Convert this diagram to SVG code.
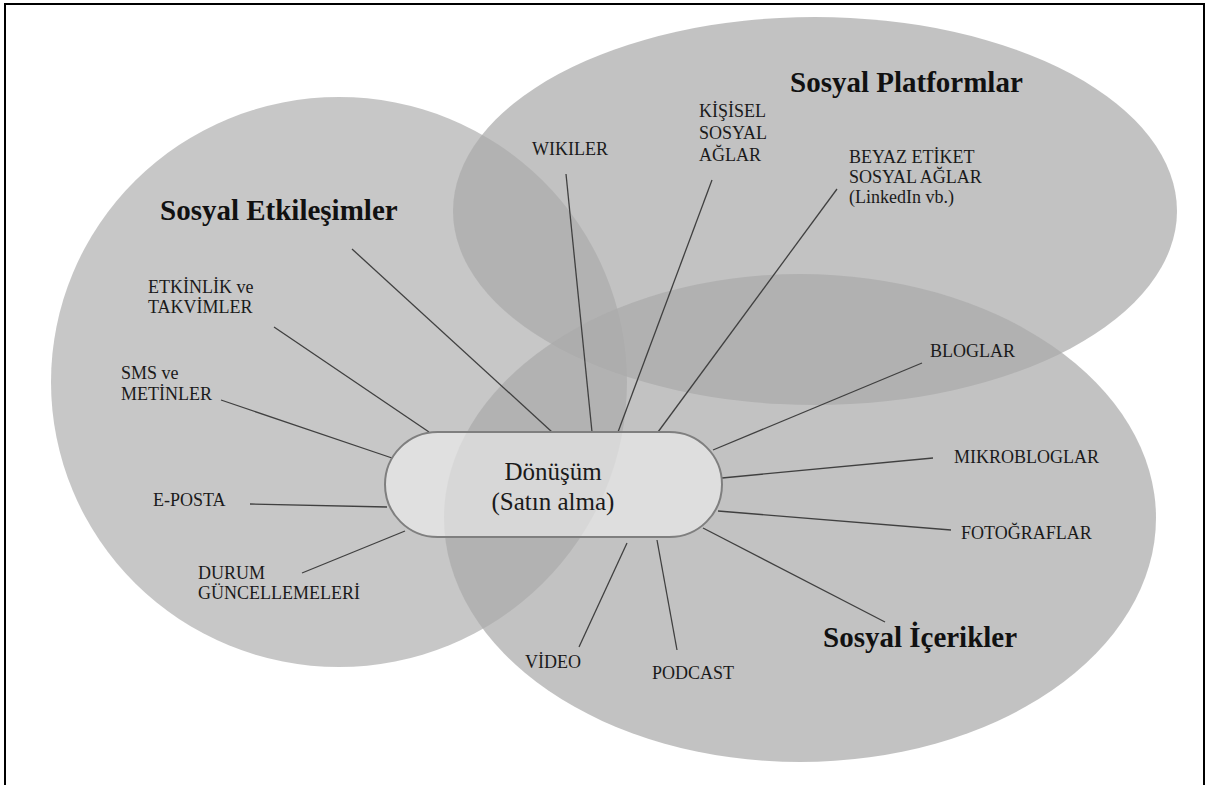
<svg xmlns="http://www.w3.org/2000/svg" width="1224" height="785" viewBox="0 0 1224 785">
<style>
.area{fill:#aaaaaa;fill-opacity:0.72;stroke:none}
.conn{stroke:#404040;stroke-width:1.3;fill:none}
.lbl{font-family:"Liberation Serif","Times New Roman",serif;font-size:18px;fill:#1a1a1a}
.ttl{font-family:"Liberation Serif","Times New Roman",serif;font-size:29px;font-weight:bold;fill:#111}
.ctr{font-family:"Liberation Serif","Times New Roman",serif;font-size:25px;fill:#1a1a1a;text-anchor:middle}
</style>
<rect x="0" y="0" width="1224" height="785" fill="#ffffff"/>
<rect x="5" y="4" width="1199" height="800" fill="none" stroke="#000" stroke-width="2"/>
<g id="areas">
<ellipse class="area" cx="339" cy="382" rx="288" ry="285" style="fill-opacity:0.66"/>
<ellipse class="area" cx="815" cy="211" rx="362" ry="194"/>
<ellipse class="area" cx="800" cy="518" rx="356" ry="244"/>
</g>
<g id="connectors">
<line class="conn" x1="352" y1="249" x2="552" y2="432"/>
<line class="conn" x1="274" y1="327" x2="429" y2="432"/>
<line class="conn" x1="221" y1="400" x2="392" y2="458"/>
<line class="conn" x1="250" y1="504" x2="387" y2="507"/>
<line class="conn" x1="302" y1="573" x2="405" y2="531"/>
<line class="conn" x1="566" y1="174" x2="592" y2="432"/>
<line class="conn" x1="712" y1="180" x2="618" y2="432"/>
<line class="conn" x1="837" y1="189" x2="658" y2="432"/>
<line class="conn" x1="922" y1="363" x2="713" y2="450"/>
<line class="conn" x1="933" y1="458" x2="722" y2="478"/>
<line class="conn" x1="951" y1="530" x2="718" y2="511"/>
<line class="conn" x1="885" y1="622" x2="703" y2="528"/>
<line class="conn" x1="579" y1="647" x2="627" y2="543"/>
<line class="conn" x1="677" y1="650" x2="657" y2="540"/>
</g>
<g id="node-donusum">
<rect x="385" y="432" width="337" height="105" rx="52.5" ry="52.5" fill="#f0f0f0" fill-opacity="0.6" stroke="#7f7f7f" stroke-width="2"/>
<text class="ctr" x="553" y="480">Dönüşüm</text>
<text class="ctr" x="553" y="510">(Satın alma)</text>
</g>
<g id="title-etkilesimler"><text class="ttl" x="160" y="220">Sosyal Etkileşimler</text></g>
<g id="title-platformlar"><text class="ttl" x="790" y="92">Sosyal Platformlar</text></g>
<g id="title-icerikler"><text class="ttl" x="823" y="647">Sosyal İçerikler</text></g>
<g id="lbl-wikiler"><text class="lbl" x="532" y="155">WIKILER</text></g>
<g id="lbl-kisisel"><text class="lbl" x="699" y="117">KİŞİSEL</text><text class="lbl" x="699" y="139">SOSYAL</text><text class="lbl" x="699" y="161">AĞLAR</text></g>
<g id="lbl-beyaz"><text class="lbl" x="849" y="163">BEYAZ ETİKET</text><text class="lbl" x="849" y="183">SOSYAL AĞLAR</text><text class="lbl" x="849" y="203">(LinkedIn vb.)</text></g>
<g id="lbl-etkinlik"><text class="lbl" x="148" y="293">ETKİNLİK ve</text><text class="lbl" x="148" y="313">TAKVİMLER</text></g>
<g id="lbl-sms"><text class="lbl" x="121" y="379">SMS ve</text><text class="lbl" x="121" y="400">METİNLER</text></g>
<g id="lbl-eposta"><text class="lbl" x="153" y="506">E-POSTA</text></g>
<g id="lbl-durum"><text class="lbl" x="198" y="579">DURUM</text><text class="lbl" x="198" y="599">GÜNCELLEMELERİ</text></g>
<g id="lbl-video"><text class="lbl" x="525" y="668">VİDEO</text></g>
<g id="lbl-podcast"><text class="lbl" x="652" y="679">PODCAST</text></g>
<g id="lbl-bloglar"><text class="lbl" x="930" y="357">BLOGLAR</text></g>
<g id="lbl-mikrobloglar"><text class="lbl" x="954" y="463">MIKROBLOGLAR</text></g>
<g id="lbl-fotograflar"><text class="lbl" x="961" y="539">FOTOĞRAFLAR</text></g>
</svg>
